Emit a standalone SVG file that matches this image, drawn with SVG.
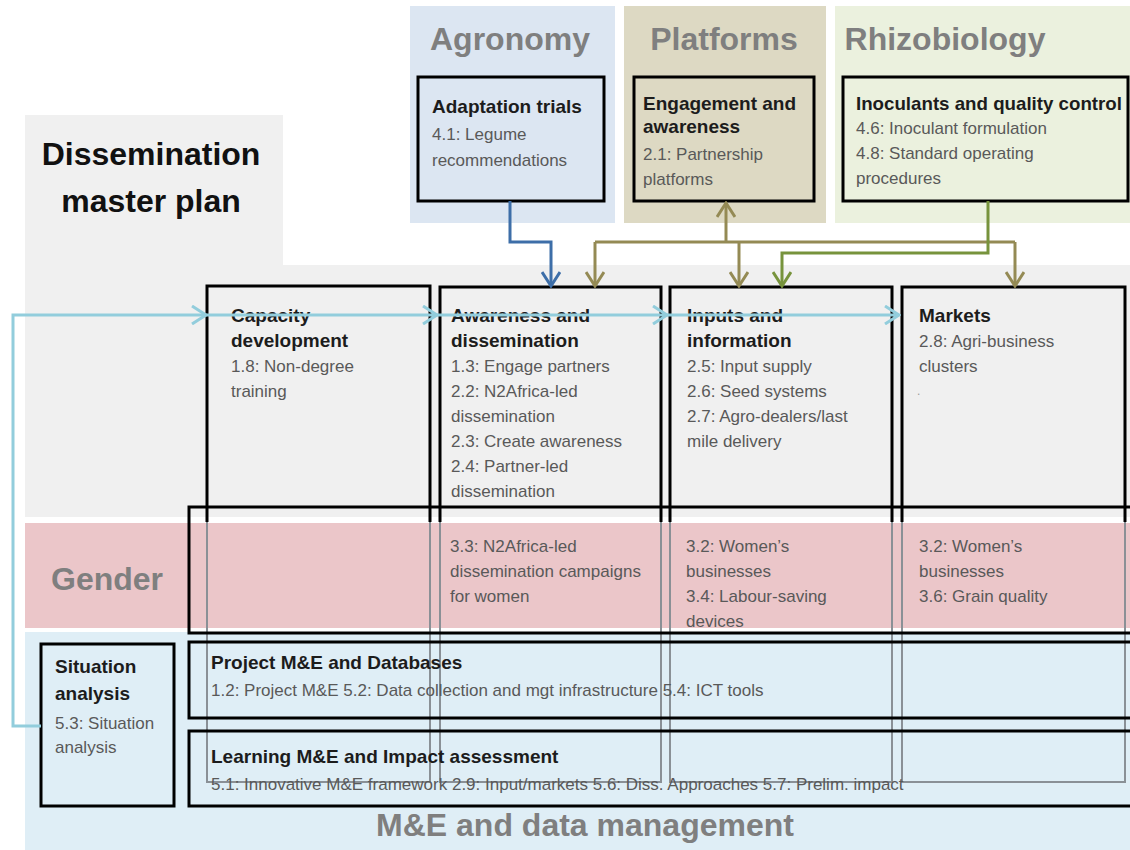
<svg xmlns="http://www.w3.org/2000/svg" width="1130" height="850" viewBox="0 0 1130 850">
<style>
text{font-family:"Liberation Sans",Arial,sans-serif}
.hd{font-size:32px;font-weight:bold;fill:#7f7f7f}
.tt{font-size:32px;font-weight:bold;fill:#111}
.b{font-size:19px;font-weight:bold;fill:#1c1c1c}
.g{font-size:17px;fill:#595959}
.box{fill:none;stroke:#000;stroke-width:3}
.col{fill:none;stroke:#8a9096;stroke-width:2}
.colk{fill:none;stroke:#000;stroke-width:3}
.cn{fill:none;stroke-width:3}
</style>
<defs>
<marker id="mB" viewBox="0 0 18 20" refX="16" refY="10" markerWidth="18" markerHeight="20" markerUnits="userSpaceOnUse" orient="auto"><path d="M2,1 L16,10 L2,19" fill="none" stroke="#3d6ea8" stroke-width="3"/></marker>
<marker id="mT" viewBox="0 0 18 20" refX="16" refY="10" markerWidth="18" markerHeight="20" markerUnits="userSpaceOnUse" orient="auto"><path d="M2,1 L16,10 L2,19" fill="none" stroke="#948a54" stroke-width="3"/></marker>
<marker id="mG" viewBox="0 0 18 20" refX="16" refY="10" markerWidth="18" markerHeight="20" markerUnits="userSpaceOnUse" orient="auto"><path d="M2,1 L16,10 L2,19" fill="none" stroke="#77933c" stroke-width="3"/></marker>
<marker id="mC" viewBox="0 0 18 20" refX="16" refY="10" markerWidth="18" markerHeight="20" markerUnits="userSpaceOnUse" orient="auto"><path d="M2,1 L16,10 L2,19" fill="none" stroke="#92cddc" stroke-width="3"/></marker>
</defs>
<rect width="1130" height="850" fill="#fff"/>
<g id="backgrounds">
<path d="M25,115 H283 V265 H1130 V517 H25 Z" fill="#f0f0f0"/>
<rect x="25" y="523" width="1105" height="105" fill="#ebc6c9"/>
<rect x="25" y="632" width="1105" height="218" fill="#dfeef6"/>
<rect x="410" y="6" width="205" height="217" fill="#dce6f2"/>
<rect x="624" y="6" width="202" height="217" fill="#ddd9c3"/>
<rect x="835" y="6" width="295" height="217" fill="#ebf1de"/>
</g>
<g id="title">
<text class="tt" x="151" y="165" text-anchor="middle">Dissemination</text>
<text class="tt" x="151" y="212" text-anchor="middle">master plan</text>
</g>
<g id="agronomy">
<text class="hd" x="510" y="50" text-anchor="middle">Agronomy</text>
<rect class="box" x="418" y="77" width="186" height="124"/>
<text class="b" x="432" y="113">Adaptation trials</text>
<text class="g" x="432" y="140">4.1: Legume</text>
<text class="g" x="432" y="166">recommendations</text>
</g>
<g id="platforms">
<text class="hd" x="724" y="50" text-anchor="middle">Platforms</text>
<rect class="box" x="634" y="77" width="180" height="124"/>
<text class="b" x="643" y="110">Engagement and</text>
<text class="b" x="643" y="133">awareness</text>
<text class="g" x="643" y="160">2.1: Partnership</text>
<text class="g" x="643" y="185">platforms</text>
</g>
<g id="rhizobiology">
<text class="hd" x="945" y="50" text-anchor="middle">Rhizobiology</text>
<rect class="box" x="843" y="77" width="285" height="124"/>
<text class="b" x="856" y="110" textLength="266" lengthAdjust="spacingAndGlyphs">Inoculants and quality control</text>
<text class="g" x="856" y="134">4.6: Inoculant formulation</text>
<text class="g" x="856" y="159">4.8: Standard operating</text>
<text class="g" x="856" y="184">procedures</text>
</g>
<g id="capacity">
<rect class="col" x="207" y="286" width="223" height="496"/>
<path class="colk" d="M207,522 V286 H430 V522"/>
<text class="b" x="231" y="322">Capacity</text>
<text class="b" x="231" y="347">development</text>
<text class="g" x="231" y="372">1.8: Non-degree</text>
<text class="g" x="231" y="397">training</text>
</g>
<g id="awareness">
<rect class="col" x="440" y="287" width="221" height="495"/>
<path class="colk" d="M440,522 V287 H661 V522"/>
<text class="b" x="451" y="322">Awareness and</text>
<text class="b" x="451" y="347">dissemination</text>
<text class="g" x="451" y="372">1.3: Engage partners</text>
<text class="g" x="451" y="397">2.2: N2Africa-led</text>
<text class="g" x="451" y="422">dissemination</text>
<text class="g" x="451" y="447">2.3: Create awareness</text>
<text class="g" x="451" y="472">2.4: Partner-led</text>
<text class="g" x="451" y="497">dissemination</text>
</g>
<g id="inputs">
<rect class="col" x="670" y="287" width="222" height="495"/>
<path class="colk" d="M670,522 V287 H892 V522"/>
<text class="b" x="687" y="322">Inputs and</text>
<text class="b" x="687" y="347">information</text>
<text class="g" x="687" y="372">2.5: Input supply</text>
<text class="g" x="687" y="397">2.6: Seed systems</text>
<text class="g" x="687" y="422">2.7: Agro-dealers/last</text>
<text class="g" x="687" y="447">mile delivery</text>
</g>
<g id="markets">
<rect class="col" x="902" y="287" width="223" height="495"/>
<path class="colk" d="M902,522 V287 H1125 V522"/>
<text class="b" x="919" y="322">Markets</text>
<text class="g" x="919" y="347">2.8: Agri-business</text>
<text class="g" x="919" y="372">clusters</text>
<text x="917" y="395" font-size="12" fill="#9a9a9a">.</text>
</g>
<g id="gender">
<text class="hd" x="107" y="590" text-anchor="middle">Gender</text>
<rect class="box" x="189" y="507" width="950" height="126"/>
<text class="g" x="450" y="552">3.3: N2Africa-led</text>
<text class="g" x="450" y="577">dissemination campaigns</text>
<text class="g" x="450" y="602">for women</text>
<text class="g" x="686" y="552">3.2: Women’s</text>
<text class="g" x="686" y="577">businesses</text>
<text class="g" x="686" y="602">3.4: Labour-saving</text>
<text class="g" x="686" y="627">devices</text>
<text class="g" x="919" y="552">3.2: Women’s</text>
<text class="g" x="919" y="577">businesses</text>
<text class="g" x="919" y="602">3.6: Grain quality</text>
</g>
<g id="situation">
<rect class="box" x="41" y="644" width="133" height="162"/>
<text class="b" x="55" y="673">Situation</text>
<text class="b" x="55" y="700">analysis</text>
<text class="g" x="55" y="729">5.3: Situation</text>
<text class="g" x="55" y="753">analysis</text>
</g>
<g id="project">
<rect class="box" x="189" y="642" width="950" height="76"/>
<text class="b" x="211" y="669">Project M&amp;E and Databases</text>
<text class="g" x="211" y="696">1.2: Project M&amp;E 5.2: Data collection and mgt infrastructure 5.4: ICT tools</text>
</g>
<g id="learning">
<rect class="box" x="189" y="731" width="950" height="75"/>
<text class="b" x="211" y="763">Learning M&amp;E and Impact assessment</text>
<text class="g" x="211" y="790">5.1: Innovative M&amp;E framework 2.9: Input/markets 5.6: Diss. Approaches 5.7: Prelim. impact</text>
</g>
<g id="me-label">
<text class="hd" x="585" y="836" text-anchor="middle">M&amp;E and data management</text>
</g>
<g id="connectors">
<path class="cn" stroke="#3d6ea8" d="M510,201 V242 H551 V286" marker-end="url(#mB)"/>
<path class="cn" stroke="#948a54" d="M595,242 H1015"/>
<path class="cn" stroke="#948a54" d="M726,242 V203" marker-end="url(#mT)"/>
<path class="cn" stroke="#948a54" d="M595,242 V286" marker-end="url(#mT)"/>
<path class="cn" stroke="#948a54" d="M739,242 V286" marker-end="url(#mT)"/>
<path class="cn" stroke="#948a54" d="M1015,242 V286" marker-end="url(#mT)"/>
<path class="cn" stroke="#77933c" d="M988,201 V253 H782 V286" marker-end="url(#mG)"/>
<path class="cn" stroke="#92cddc" d="M41,726 H13 V315 H206" marker-end="url(#mC)"/>
<path class="cn" stroke="#92cddc" d="M206,315 H437" marker-end="url(#mC)"/>
<path class="cn" stroke="#92cddc" d="M437,315 H667" marker-end="url(#mC)"/>
<path class="cn" stroke="#92cddc" d="M667,315 H899" marker-end="url(#mC)"/>
</g>
</svg>
